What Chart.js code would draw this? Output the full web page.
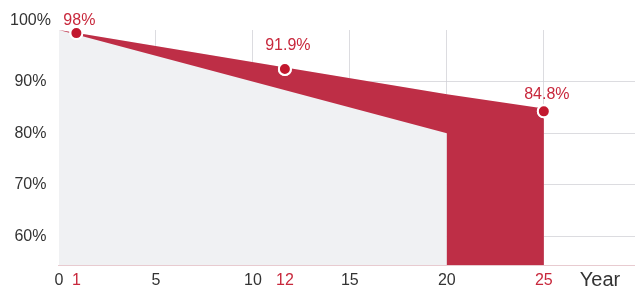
<!DOCTYPE html>
<html>
<head>
<meta charset="utf-8">
<script src="https://cdn.jsdelivr.net/npm/chart.js@4"></script>
<style>
  html, body { margin: 0; padding: 0; background: #fff; }
  #wrap { width: 635px; height: 288px; }
</style>
</head>
<body>
<div id="wrap"><canvas id="chart"></canvas></div>
<script>
// Данные
const upperYears = [0, 20, 25];
const upperValues = [100, 87.55, 84.8];
const lowerYears = [0, 20, 20, 25];
const lowerValues = [100, 80, 54.5, 54.5];
const markerYears = [0.9, 11.65, 25];
const markerValues = [99.4, 92.45, 84.25];
const markerLabels = ['98%', '91.9%', '84.8%'];
const xTickValues = [0, 0.9, 5, 10, 11.65, 15, 20, 25];
const xTickLabels = ['0', '1', '5', '10', '12', '15', '20', '25'];
const xRedTicks = [0.9, 11.65, 25];
const xGridTicks = [5, 10, 15, 20, 25];
const yTickValues = [60, 70, 80, 90, 100];

// Оформление
const RED = '#be2e46';
const DOT_RED = '#c2182e';
const LABEL_RED = '#c8283c';
const GRAY_FILL = '#f0f1f3';
const GRID = 'rgba(206, 206, 212, 0.72)';
const TEXT = '#333333';
const FONT = "'Liberation Sans', Arial, sans-serif";
const LABEL_LIFT = [13, 23, 17];

const upperPoints = upperYears.map((x, i) => ({ x, y: upperValues[i] }));
const lowerPoints = lowerYears.map((x, i) => ({ x, y: lowerValues[i] }));
const redShape = upperPoints.concat(lowerPoints.slice().reverse());
const grayPoints = upperPoints.filter(p => p.x <= 20);
const markers = markerYears.map((x, i) => ({ x, y: markerValues[i] }));

// Подписи точек, "Year" и точки поверх сетки
const overlayPlugin = {
    id: 'overlay',
    afterDraw(chart) {
        const ctx = chart.ctx;
        chart.getDatasetMeta(0).controller.draw();

        const xs = chart.scales.x;
        const ys = chart.scales.y;
        ctx.save();
        ctx.font = '16px ' + FONT;
        ctx.fillStyle = LABEL_RED;
        ctx.textAlign = 'center';
        ctx.textBaseline = 'middle';
        markers.forEach((p, i) => {
            const px = xs.getPixelForValue(p.x);
            const py = ys.getPixelForValue(p.y);
            ctx.fillText(markerLabels[i], px + 3, py - LABEL_LIFT[i]);
        });

        ctx.font = '20px ' + FONT;
        ctx.fillStyle = TEXT;
        ctx.fillText('Year', chart.chartArea.right - 35, chart.chartArea.bottom + 15);
        ctx.restore();
    }
};

const chart = new Chart(document.getElementById('chart'), {
    type: 'line',
    data: {
        datasets: [
            {
                data: markers,
                showLine: false,
                pointRadius: 6,
                pointHoverRadius: 6,
                pointBorderWidth: 2,
                pointBorderColor: '#ffffff',
                pointBackgroundColor: DOT_RED,
                clip: false
            },
            {
                data: redShape,
                borderWidth: 0,
                pointRadius: 0,
                backgroundColor: RED,
                fill: 'shape'
            },
            {
                data: grayPoints,
                borderWidth: 0,
                pointRadius: 0,
                backgroundColor: GRAY_FILL,
                fill: 'start'
            }
        ]
    },
    options: {
        responsive: true,
        maintainAspectRatio: false,
        animation: false,
        layout: { autoPadding: false, padding: { left: 2, top: 30, right: 0, bottom: 0 } },
        plugins: {
            legend: { display: false },
            tooltip: { enabled: false }
        },
        scales: {
            x: {
                type: 'linear',
                min: 0,
                max: 29.7,
                z: 1,
                afterBuildTicks: axis => {
                    axis.ticks = xTickValues.map(v => ({ value: v }));
                },
                afterFit: scale => {
                    scale.paddingRight = 0;
                    scale.height = 23;
                },
                ticks: {
                    autoSkip: false,
                    maxRotation: 0,
                    padding: 6,
                    font: { family: FONT, size: 16 },
                    color: ctx => xRedTicks.includes(ctx.tick.value) ? LABEL_RED : TEXT,
                    callback: (value, index) => xTickLabels[index]
                },
                grid: {
                    drawTicks: false,
                    color: ctx => ctx.tick && xGridTicks.includes(ctx.tick.value) ? GRID : 'rgba(0,0,0,0)'
                },
                border: { display: true, color: '#e8cbd0', width: 1 }
            },
            y: {
                min: 54.5,
                max: 100,
                z: 1,
                afterBuildTicks: axis => {
                    axis.ticks = yTickValues.map(v => ({ value: v }));
                },
                ticks: {
                    padding: 8,
                    crossAlign: 'center',
                    font: { family: FONT, size: 16 },
                    color: TEXT,
                    callback: value => value === 100 ? ['100%', ''] : value + '%'
                },
                grid: {
                    drawTicks: false,
                    color: ctx => ctx.tick && ctx.tick.value === 100 ? 'rgba(0,0,0,0)' : GRID
                },
                border: { display: false }
            }
        }
    },
    plugins: [overlayPlugin]
});
</script>
</body>
</html>
